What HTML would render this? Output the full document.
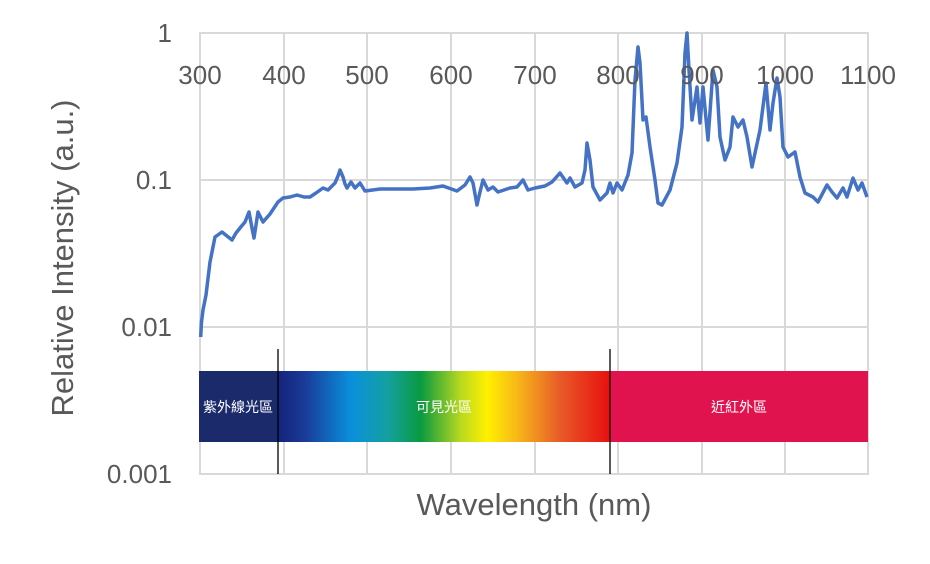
<!DOCTYPE html>
<html><head><meta charset="utf-8"><style>
body{margin:0;background:#fff;}
svg text{font-family:"Liberation Sans","Noto Sans CJK TC",sans-serif;}
</style></head><body>
<svg width="930" height="559" viewBox="0 0 930 559" xmlns="http://www.w3.org/2000/svg">
<defs>
<linearGradient id="vis" x1="0" x2="1" y1="0" y2="0">
<stop offset="0" stop-color="#14237a"/>
<stop offset="0.08" stop-color="#1a3a98"/>
<stop offset="0.22" stop-color="#0a90dc"/>
<stop offset="0.33" stop-color="#14a0a0"/>
<stop offset="0.43" stop-color="#0a9a40"/>
<stop offset="0.55" stop-color="#b8d820"/>
<stop offset="0.63" stop-color="#fff000"/>
<stop offset="0.72" stop-color="#f7b818"/>
<stop offset="0.85" stop-color="#e85a28"/>
<stop offset="1" stop-color="#e80f10"/>
</linearGradient>
</defs>
<g stroke="#d9d9d9" stroke-width="2" fill="none">
<rect x="200" y="33" width="668" height="441"/>
<line x1="200" y1="180" x2="868" y2="180"/>
<line x1="200" y1="327" x2="868" y2="327"/>
<line x1="284" y1="33" x2="284" y2="474"/>
<line x1="367" y1="33" x2="367" y2="474"/>
<line x1="451" y1="33" x2="451" y2="474"/>
<line x1="535" y1="33" x2="535" y2="474"/>
<line x1="618" y1="33" x2="618" y2="474"/>
<line x1="702" y1="33" x2="702" y2="474"/>
<line x1="785" y1="33" x2="785" y2="474"/>
</g>
<rect x="199" y="371" width="79" height="71" fill="#1b2a6b"/>
<rect x="278" y="371" width="332" height="71" fill="url(#vis)"/>
<rect x="610" y="371" width="258" height="71" fill="#e0134f"/>
<line x1="278" y1="349" x2="278" y2="474" stroke="#000" stroke-width="1.3"/>
<line x1="610" y1="349" x2="610" y2="474" stroke="#000" stroke-width="1.3"/>
<g fill="#fff" font-size="14" text-anchor="middle">
<text x="238" y="412">紫外線光區</text>
<text x="444" y="412">可見光區</text>
<text x="739" y="412">近紅外區</text>
</g>
<polyline fill="none" stroke="#4472c4" stroke-width="3.5" stroke-linejoin="round" points="
200.7,337 201.5,322 203,310 206,295 210,262 215,237 222,232 227,236 232,240 236,233 240,228 245,222 249,212 252,228 254,238 256,225 258,212 263,222 270,214 278,202 283,198 290,197 297,195 304,197 310,197 316,193 323,188 328,190 335,183 338,176 340,170 343,177 345,184 347,188 351,182 355,188 360,183 365,191 380,189 400,189 413,189 430,188 443,186 457,191 465,185 470,177 473,183 477,205 480,192 483,180 488,190 493,187 498,192 510,188 517,187 523,180 528,190 535,188 545,186 552,182 560,173 567,183 570,178 575,187 582,183 585,170 587,143 590,160 593,187 600,200 607,193 610,183 613,193 617,183 622,190 628,175 632,153 635,80 638,47 640,63 643,120 646,117 650,147 655,180 658,203 662,205 670,190 677,163 682,127 685,53 687,33 689,70 692,120 697,87 700,123 703,87 708,140 713,70 717,87 720,137 725,160 730,147 733,117 738,127 743,120 747,137 752,167 760,130 766,83 770,130 773,103 777,78 780,97 783,147 788,157 795,152 800,177 805,193 813,197 818,202 827,185 832,192 837,198 843,188 847,197 853,178 858,190 862,183 867,197"/>
<g fill="#595959" font-size="26" text-anchor="end">
<text x="172" y="42">1</text>
<text x="172" y="189">0.1</text>
<text x="172" y="336">0.01</text>
<text x="172" y="483">0.001</text>
</g>
<g fill="#595959" font-size="26" text-anchor="middle">
<text x="200" y="84">300</text>
<text x="284" y="84">400</text>
<text x="367" y="84">500</text>
<text x="451" y="84">600</text>
<text x="535" y="84">700</text>
<text x="618" y="84">800</text>
<text x="702" y="84">900</text>
<text x="785" y="84">1000</text>
<text x="868" y="84">1100</text>
</g>
<text x="534" y="515" fill="#595959" font-size="31" text-anchor="middle">Wavelength (nm)</text>
<text transform="translate(73,258) rotate(-90)" fill="#595959" font-size="31" text-anchor="middle">Relative Intensity (a.u.)</text>
</svg>
</body></html>
